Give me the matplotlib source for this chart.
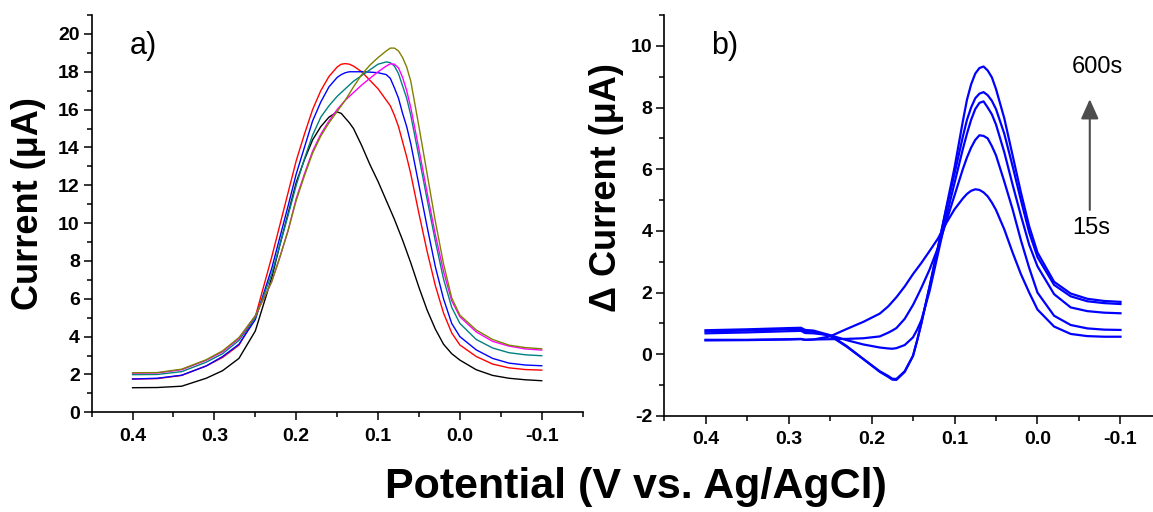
import matplotlib
matplotlib.use('Agg')
import matplotlib.pyplot as plt
from matplotlib.ticker import FixedLocator, MultipleLocator, FormatStrFormatter

# ---- data ----
# panel a) voltammograms, potential in V vs Ag/AgCl, current in uA
potential_a = [0.40, 0.37, 0.34, 0.31, 0.29, 0.27, 0.25, 0.23, 0.22, 0.21, 0.20,
               0.19, 0.18, 0.17, 0.16, 0.15, 0.145, 0.14, 0.135, 0.13, 0.12, 0.11,
               0.10, 0.09, 0.085, 0.08, 0.075, 0.07, 0.065, 0.06, 0.05, 0.04, 0.03,
               0.02, 0.01, 0.00, -0.02, -0.04, -0.06, -0.08, -0.10]
current_black = [1.30, 1.31, 1.38, 1.80, 2.20, 2.85, 4.30, 7.10, 8.85, 10.50, 12.15,
                 13.35, 14.40, 15.10, 15.60, 15.88, 15.80, 15.55, 15.30, 15.00, 14.10, 13.10,
                 12.20, 11.20, 10.70, 10.20, 9.65, 9.10, 8.50, 7.90, 6.60, 5.40, 4.40,
                 3.60, 3.10, 2.76, 2.25, 1.95, 1.80, 1.72, 1.67]
current_red = [1.76, 1.78, 1.95, 2.45, 2.90, 3.55, 5.05, 8.20, 9.90, 11.60, 13.30,
               14.70, 16.00, 17.00, 17.75, 18.25, 18.40, 18.43, 18.40, 18.30, 18.00, 17.55,
               17.10, 16.50, 16.20, 15.70, 15.10, 14.30, 13.50, 12.60, 10.50, 8.50, 6.70,
               5.25, 4.20, 3.56, 2.95, 2.55, 2.35, 2.26, 2.23]
current_blue = [1.76, 1.80, 1.96, 2.45, 2.95, 3.60, 4.90, 7.60, 9.25, 10.90, 12.60,
                14.00, 15.40, 16.40, 17.20, 17.70, 17.85, 17.95, 18.00, 18.00, 18.00, 17.98,
                17.95, 17.85, 17.65, 17.15, 16.60, 15.80, 15.10, 14.20, 12.00, 9.80, 7.70,
                6.00, 4.70, 4.00, 3.30, 2.85, 2.60, 2.50, 2.46]
current_teal = [1.99, 2.00, 2.15, 2.65, 3.10, 3.80, 5.00, 7.30, 8.85, 10.40, 12.00,
                13.40, 14.65, 15.60, 16.20, 16.70, 16.90, 17.10, 17.30, 17.50, 17.80, 18.10,
                18.40, 18.52, 18.48, 18.30, 17.90, 17.25, 16.60, 15.70, 13.50, 11.25, 9.05,
                7.05, 5.55, 4.70, 3.85, 3.40, 3.15, 3.04, 2.99]
current_magenta = [2.07, 2.08, 2.25, 2.75, 3.20, 3.90, 5.10, 6.90, 8.20, 9.60, 11.30,
                   12.60, 13.80, 14.70, 15.40, 16.00, 16.25, 16.50, 16.70, 16.90, 17.30, 17.65,
                   18.00, 18.30, 18.42, 18.40, 18.20, 17.70, 17.00, 16.10, 13.90, 11.60, 9.40,
                   7.45, 5.90, 5.05, 4.25, 3.75, 3.50, 3.35, 3.29]
current_olive = [2.09, 2.10, 2.28, 2.78, 3.25, 3.95, 5.10, 6.90, 8.20, 9.60, 11.20,
                 12.50, 13.70, 14.60, 15.30, 15.90, 16.20, 16.50, 16.85, 17.20, 17.85, 18.35,
                 18.75, 19.10, 19.25, 19.25, 19.10, 18.75, 18.25, 17.50, 15.10, 12.60, 10.10,
                 7.85, 6.05, 5.14, 4.35, 3.85, 3.55, 3.42, 3.36]
colors_a = ['black', '#ff0000', '#0000ff', '#008080', '#ff00ff', '#808000']

# panel b) difference currents, 15 s ... 600 s
potential_b = [0.40, 0.35, 0.30, 0.285, 0.28, 0.27, 0.25, 0.23, 0.21, 0.19,
               0.18, 0.175, 0.17, 0.16, 0.15, 0.145, 0.14, 0.13, 0.12, 0.11,
               0.10, 0.09, 0.085, 0.08, 0.075, 0.07, 0.065, 0.06, 0.055, 0.05,
               0.04, 0.03, 0.02, 0.01, 0.00, -0.02, -0.04, -0.06, -0.08, -0.10]
delta_15s = [0.45, 0.46, 0.48, 0.49, 0.47, 0.48, 0.58, 0.82, 1.05, 1.32,
             1.55, 1.70, 1.85, 2.20, 2.60, 2.78, 2.96, 3.35, 3.75, 4.25,
             4.70, 5.05, 5.20, 5.30, 5.35, 5.33, 5.25, 5.12, 4.92, 4.68,
             4.05, 3.30, 2.60, 2.00, 1.45, 0.90, 0.66, 0.59, 0.57, 0.57]
delta_2 = [0.47, 0.47, 0.49, 0.50, 0.47, 0.48, 0.49, 0.50, 0.52, 0.58,
           0.70, 0.77, 0.85, 1.15, 1.60, 1.87, 2.15, 2.75, 3.45, 4.30,
           5.15, 6.00, 6.38, 6.70, 6.95, 7.10, 7.08, 7.00, 6.75, 6.45,
           5.60, 4.70, 3.70, 2.80, 2.00, 1.25, 0.95, 0.84, 0.80, 0.79]
delta_3 = [0.68, 0.71, 0.75, 0.76, 0.69, 0.68, 0.62, 0.46, 0.32, 0.22,
           0.19, 0.18, 0.20, 0.30, 0.55, 0.80, 1.10, 2.05, 3.25, 4.45,
           5.55, 6.65, 7.15, 7.60, 7.95, 8.15, 8.20, 8.00, 7.78, 7.45,
           6.55, 5.50, 4.50, 3.55, 2.85, 1.95, 1.52, 1.40, 1.35, 1.33]
delta_4 = [0.74, 0.77, 0.81, 0.82, 0.75, 0.73, 0.60, 0.25, -0.15, -0.55,
           -0.70, -0.79, -0.80, -0.55, -0.05, 0.45, 1.00, 2.20, 3.45, 4.70,
           5.85, 7.05, 7.60, 8.00, 8.30, 8.45, 8.50, 8.40, 8.22, 7.95,
           7.15, 6.10, 5.00, 3.95, 3.15, 2.25, 1.88, 1.72, 1.66, 1.63]
delta_600s = [0.78, 0.81, 0.85, 0.86, 0.79, 0.77, 0.62, 0.27, -0.15, -0.57,
              -0.73, -0.82, -0.83, -0.57, -0.05, 0.45, 1.00, 2.20, 3.45, 4.75,
              6.05, 7.55, 8.25, 8.75, 9.10, 9.28, 9.33, 9.20, 8.98, 8.60,
              7.65, 6.45, 5.25, 4.15, 3.30, 2.35, 1.97, 1.80, 1.73, 1.70]

x_ticks = [0.4, 0.3, 0.2, 0.1, 0.0, -0.1]

# ---- figure ----
plt.rcParams['font.family'] = ['Liberation Sans', 'DejaVu Sans']
plt.rcParams['font.weight'] = 'bold'
plt.rcParams['axes.unicode_minus'] = False

fig = plt.figure(figsize=(11.53, 5.12), dpi=100)
ax1 = fig.add_axes([0.0795, 0.1947, 0.4258, 0.776])
ax2 = fig.add_axes([0.5759, 0.1875, 0.4319, 0.7832])

curves_a = [current_black, current_red, current_blue, current_teal,
            current_magenta, current_olive]
for cur, col in zip(curves_a, colors_a):
    ax1.plot(potential_a, cur, color=col, lw=1.0)

for cur in [delta_15s, delta_2, delta_3, delta_4, delta_600s]:
    ax2.plot(potential_b, cur, color='#0000ff', lw=1.6)

for ax in (ax1, ax2):
    ax.spines['top'].set_visible(False)
    ax.spines['right'].set_visible(False)
    ax.spines['left'].set_linewidth(1.2)
    ax.spines['bottom'].set_linewidth(1.2)
    ax.set_xlim(0.45, -0.15)
    ax.xaxis.set_major_locator(FixedLocator(x_ticks))
    ax.xaxis.set_minor_locator(MultipleLocator(0.05))
    ax.xaxis.set_major_formatter(FormatStrFormatter('%.1f'))
    ax.yaxis.set_major_locator(MultipleLocator(2))
    ax.yaxis.set_minor_locator(MultipleLocator(1))
    ax.tick_params(which='major', direction='out', length=6, width=1.1, labelsize=14)
    ax.tick_params(which='minor', direction='out', length=3.5, width=1.1)
    ax.tick_params(axis='x', pad=5)
    ax.tick_params(axis='y', pad=2.5)

ax1.set_ylim(0, 21)
ax2.set_ylim(-2, 11)

fig.text(0.0243, 0.6016, 'Current (μA)', rotation=90, fontsize=26,
         ha='center', va='center')
fig.text(0.5256, 0.6328, 'Δ Current (μA)', rotation=90, fontsize=26,
         ha='center', va='center')
fig.text(0.5516, 0.049, 'Potential (V vs. Ag/AgCl)', fontsize=31,
         ha='center', va='center')

ax1.text(0.078, 0.922, 'a)', transform=ax1.transAxes, fontsize=22,
         fontweight='normal', ha='left', va='center')
ax2.text(0.094, 0.923, 'b)', transform=ax2.transAxes, fontsize=22,
         fontweight='normal', ha='left', va='center')

ax2.text(-0.0723, 9.32, '600s', fontsize=17, fontweight='normal',
         ha='center', va='center')
ax2.text(-0.065, 4.1, '15s', fontsize=17, fontweight='normal',
         ha='center', va='center')
ax2.annotate('', xy=(-0.063, 8.27), xytext=(-0.063, 4.68),
             arrowprops=dict(arrowstyle='-|>,head_length=0.6,head_width=0.27',
                             color='#4d4d4d', lw=1.5, mutation_scale=20,
                             shrinkA=0, shrinkB=0))

fig.savefig('out.png', dpi=100)
